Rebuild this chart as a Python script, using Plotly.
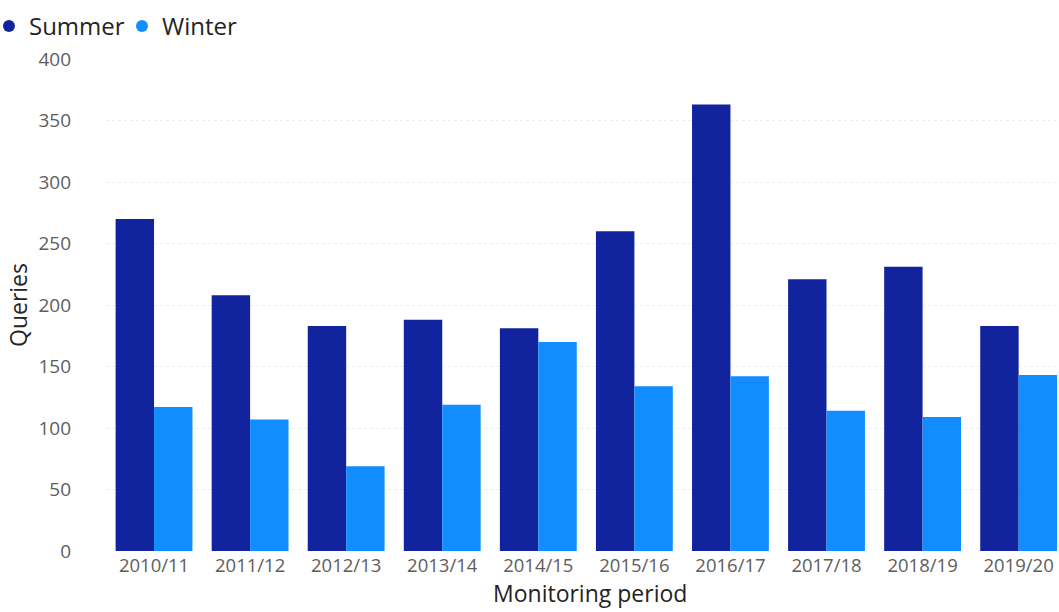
import plotly.graph_objects as go

periods = ["2010/11", "2011/12", "2012/13", "2013/14", "2014/15",
           "2015/16", "2016/17", "2017/18", "2018/19", "2019/20"]
summer = [270, 208, 183, 188, 181, 260, 363, 221, 231, 183]
winter = [117, 107, 69, 119, 170, 134, 142, 114, 109, 143]
y_ticks = [0, 50, 100, 150, 200, 250, 300, 350, 400]

SUMMER_COLOR = "#12239E"
WINTER_COLOR = "#118DFF"
FONT = "Open Sans, Noto Sans, sans-serif"

fig = go.Figure()
fig.add_trace(go.Bar(x=periods, y=summer, name="Summer",
                     marker=dict(color=SUMMER_COLOR, line=dict(width=0)),
                     showlegend=False))
fig.add_trace(go.Bar(x=periods, y=winter, name="Winter",
                     marker=dict(color=WINTER_COLOR, line=dict(width=0)),
                     showlegend=False))

# circular legend markers
for name, color in [("Summer", SUMMER_COLOR), ("Winter", WINTER_COLOR)]:
    fig.add_trace(go.Scatter(x=[None], y=[None], mode="markers", name=name,
                             marker=dict(symbol="circle", size=12, color=color)))

# x-axis title placed as a centred annotation below the tick labels
fig.add_annotation(text="Monitoring period", xref="paper", yref="paper",
                   x=0.508, y=-0.086, xanchor="center", yanchor="middle",
                   showarrow=False, borderpad=0,
                   font=dict(size=23, color="#252423"))

fig.update_layout(
    width=1059, height=612,
    margin=dict(l=106, r=0, t=59, b=61, autoexpand=False),
    paper_bgcolor="white", plot_bgcolor="white",
    barmode="group", bargap=0.2, bargroupgap=0,
    font=dict(family=FONT, color="#605E5C"),
    legend=dict(orientation="h", xref="paper", yref="container",
                x=-0.1228, y=0.9935, xanchor="left", yanchor="top",
                font=dict(size=24, color="#252423"),
                itemwidth=30, tracegroupgap=0, bgcolor="rgba(0,0,0,0)",
                entrywidth=88, entrywidthmode="pixels"),
    xaxis=dict(type="category", range=[-0.5, 9.42],
               tickfont=dict(size=18.5, color="#605E5C"),
               showgrid=False, showline=False, zeroline=False,
               ticks="", ticklabelstandoff=1),
    yaxis=dict(range=[0, 400], tickvals=y_ticks,
               tickfont=dict(size=19, color="#605E5C"),
               showgrid=True, gridcolor="#EDEDED", griddash="dot", gridwidth=1,
               zeroline=False, showline=False, ticks="",
               ticklabelstandoff=34,
               title=dict(text="Queries", standoff=4,
                          font=dict(size=23, color="#252423"))),
)

fig.write_html("out.html")
